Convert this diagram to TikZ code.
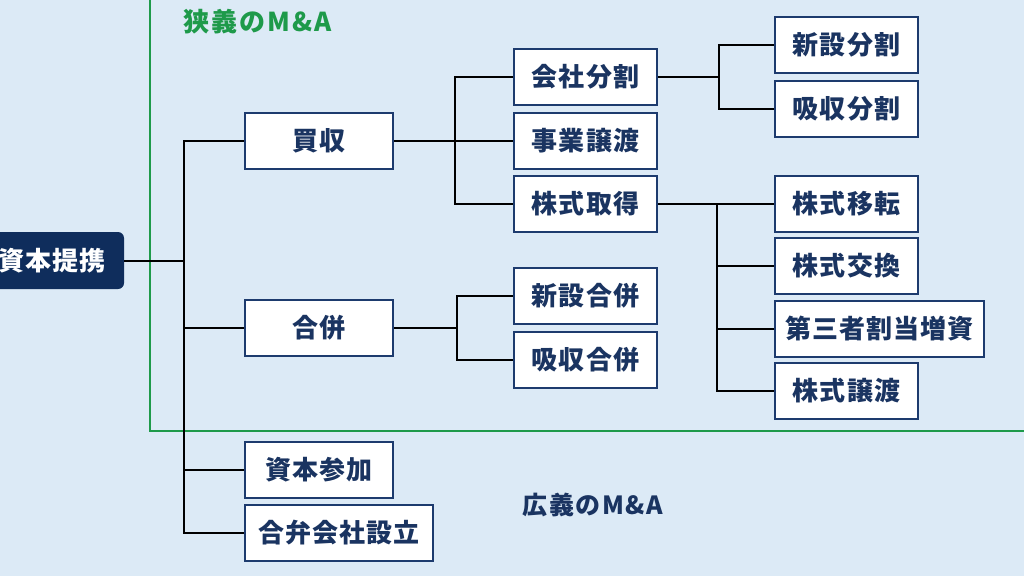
\documentclass[tikz,border=0pt]{standalone}
\usepackage{fontspec}
\setmainfont{Noto Sans CJK JP}
\definecolor{bg}{HTML}{DCEAF6}
\definecolor{navy}{HTML}{0F2D5C}
\definecolor{boxline}{HTML}{1D3B6E}
\definecolor{txt}{HTML}{1A3461}
\definecolor{grn}{HTML}{1E9A4A}
\newcommand{\boxfont}{\fontsize{26}{30}\selectfont\bfseries\addfontfeatures{LetterSpace=4}}
\tikzset{
  box/.style={draw=boxline, line width=2pt, fill=white, minimum height=56pt, inner sep=0pt, anchor=west, text=txt, font=\boxfont},
  wA/.style={minimum width=148pt},
  wB/.style={minimum width=143pt},
  conn/.style={draw=black, line width=2pt},
}
\begin{document}
\begin{tikzpicture}[x=1pt,y=-1pt]
\useasboundingbox (0,0) rectangle (1024,576);
\clip (0,0) rectangle (1024,576);
\fill[bg] (0,0) rectangle (1024,576);
\draw[grn, line width=2pt] (150,-10) -- (150,431) -- (1040,431);
\node[anchor=west, text=grn, font=\fontsize{26}{30}\selectfont\bfseries\addfontfeatures{LetterSpace=8}] (narrow) at (180,22) {狭義のM\&A};
\node[anchor=west, text=txt, font=\fontsize{25}{30}\selectfont\bfseries\addfontfeatures{LetterSpace=6}] (broad) at (519,505) {広義のM\&A};

\node[fill=navy, rounded corners=6pt, minimum width=144pt, minimum height=57pt, inner sep=0pt, text=white, font=\boxfont] (root) at (52,260.5) {資本提携};

% level 1
\node[box, wA] (baishu) at (244,140.5) {買収};
\node[box, wA] (gappei) at (244,327.5) {合併};
\node[box, wA] (sanka) at (244,469.5) {資本参加};
\node[box, minimum width=188pt] (gouben) at (244,533) {合弁会社設立};

% level 2
\node[box, wB] (kaisha) at (513,76.5) {会社分割};
\node[box, wB] (jigyo) at (513,140.5) {事業譲渡};
\node[box, wB] (kabush) at (513,204) {株式取得};
\node[box, wB] (shinG) at (513,296) {新設合併};
\node[box, wB] (kyuG) at (513,359.5) {吸収合併};

% level 3
\node[box, wB] (shinB) at (774,45) {新設分割};
\node[box, wB] (kyuB) at (774,108.5) {吸収分割};
\node[box, wB] (iten) at (774,204) {株式移転};
\node[box, wB] (koukan) at (774,266) {株式交換};
\node[box, minimum width=209pt] (daisan) at (774,328.5) {第三者割当増資};
\node[box, wB] (jouto) at (774,390.5) {株式譲渡};

% connectors
\coordinate (trunk) at (184,260.5);
\draw[conn] (root.east) -- (trunk);
\draw[conn] (baishu.west) -- ++(-60,0) |- (gouben.west);
\draw[conn] (gappei.west) -- ++(-60,0);
\draw[conn] (sanka.west) -- ++(-60,0);

\draw[conn] (baishu.east) -- (jigyo.west);
\draw[conn] (kaisha.west) -- ++(-58,0) |- (kabush.west);

\draw[conn] (gappei.east) -- ++(63,0) coordinate (g1);
\draw[conn] (shinG.west) -| (g1) |- (kyuG.west);

\draw[conn] (kaisha.east) -- ++(61,0) coordinate (k1);
\draw[conn] (shinB.west) -| (k1) |- (kyuB.west);

\draw[conn] (kabush.east) -- (iten.west);
\draw[conn] (iten.west) -- ++(-57,0) |- (jouto.west);
\draw[conn] (koukan.west) -- ++(-57,0);
\draw[conn] (daisan.west) -- ++(-57,0);
\end{tikzpicture}
\end{document}
